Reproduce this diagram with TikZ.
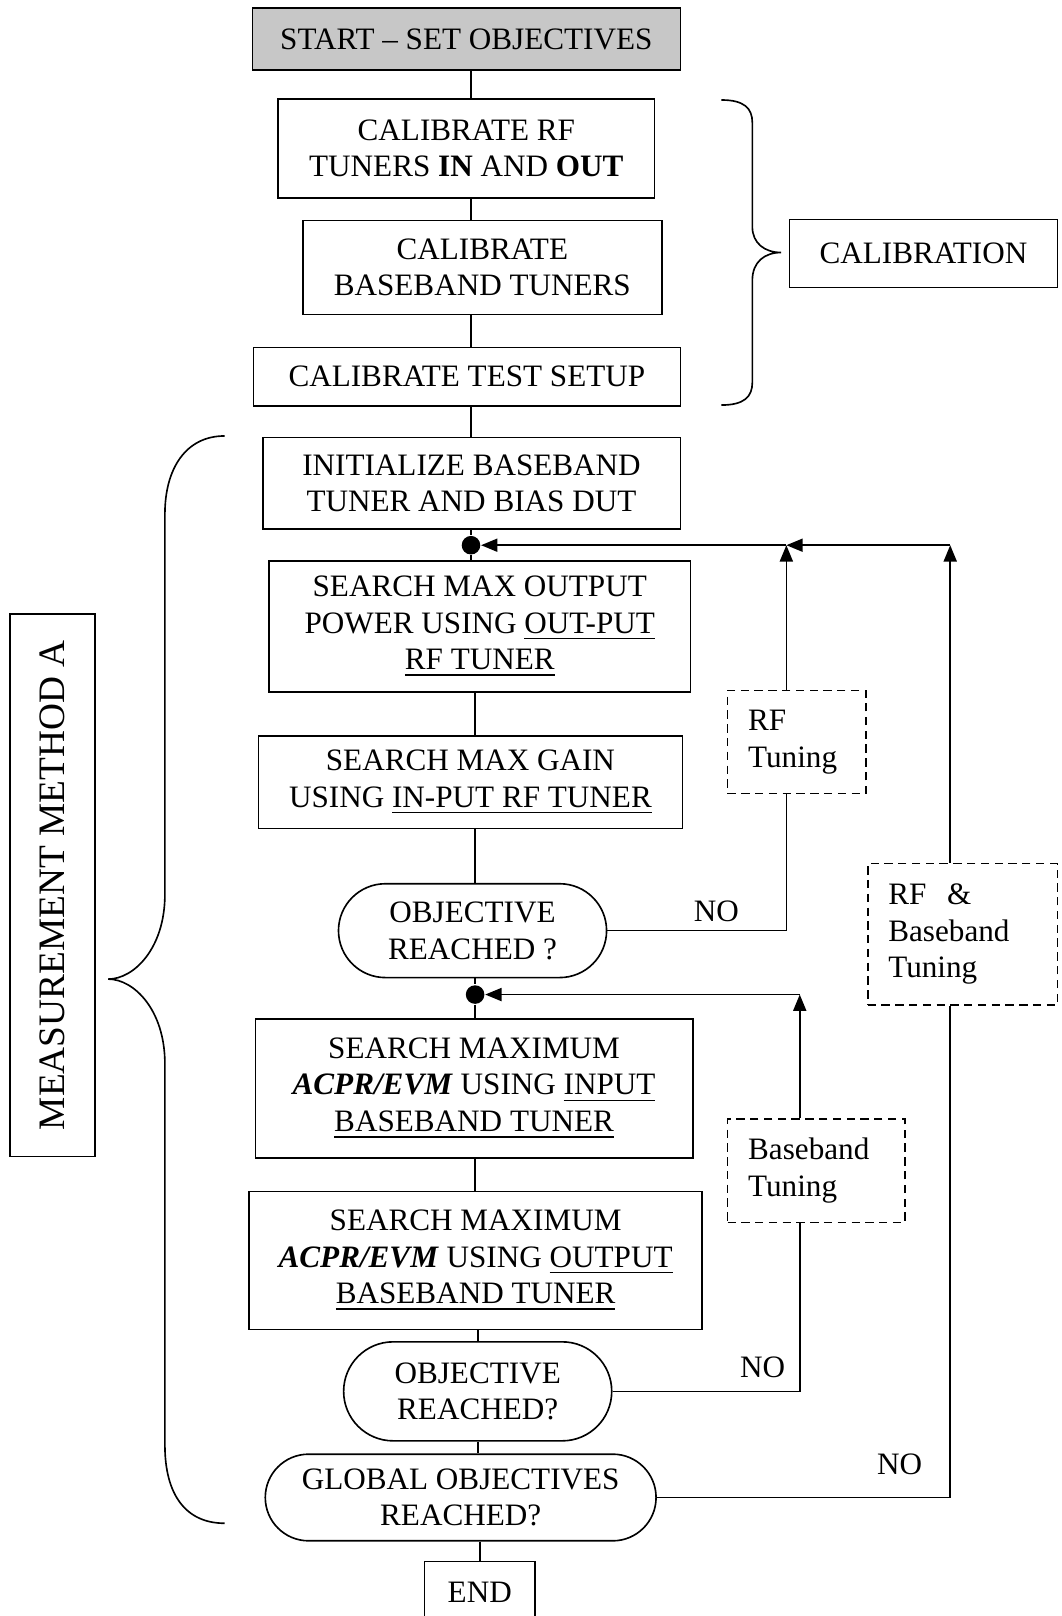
\documentclass[tikz,border=0pt]{standalone}
\usepackage{fontspec}
\setmainfont{Liberation Serif}
\usetikzlibrary{arrows.meta,shapes.misc}

\begin{document}
\begin{tikzpicture}[x=0.01cm,y=-0.01cm,line width=0.45pt,
    font=\fontsize{8.6}{10.1}\selectfont,
    stepbox/.style={draw,rectangle,align=center,inner sep=1pt},
    askbox/.style={draw,rounded rectangle,align=center,inner sep=1pt},
    tunebox/.style={draw,rectangle,dash pattern=on 2.3pt off 1.5pt,align=left,inner xsep=0.2cm,minimum height=1cm},
    joint/.style={circle,fill=black,inner sep=0pt,minimum size=0.18cm},
    arr/.style={-{Triangle[length=4.5pt,width=3.6pt]}} ]
    \useasboundingbox (0,0) rectangle (1030,1568);
    % calibration part
    \node at (452.5,38) [stepbox,fill=black!22,minimum width=4.15cm,minimum height=0.60cm] (start) {START -- SET OBJECTIVES};
    \node at (452.5,144) [stepbox,minimum width=3.65cm,minimum height=0.96cm] (calrf) {CALIBRATE RF\\TUNERS \textbf{IN} AND \textbf{OUT}};
    \node at (468,259.5) [stepbox,minimum width=3.48cm,minimum height=0.91cm] (calbb) {CALIBRATE\\BASEBAND TUNERS};
    \node at (453,365.5) [stepbox,minimum width=4.14cm,minimum height=0.57cm] (caltest) {CALIBRATE TEST SETUP};
    \node at (896,246) [stepbox,minimum width=2.60cm,minimum height=0.66cm] (calib) {CALIBRATION};
    \draw (700,97) .. controls (722,97) and (730,105) .. (730,119) -- (730,220)
        .. controls (730,236) and (742,245) .. (758,245)
        .. controls (742,245) and (730,254) .. (730,272) -- (730,371)
        .. controls (730,385) and (722,393) .. (700,393);
    % measurement part
    \node at (457.5,469) [stepbox,minimum width=4.05cm,minimum height=0.89cm] (init) {INITIALIZE BASEBAND\\TUNER AND BIAS DUT};
    \node at (457,529) [joint] (dot1) {};
    \node at (465.5,608) [stepbox,minimum width=4.09cm,minimum height=1.27cm] (maxout) {SEARCH MAX OUTPUT\\POWER USING \underline{OUT-PUT}\\\underline{RF TUNER}};
    \node at (456.5,759) [stepbox,minimum width=4.11cm,minimum height=0.90cm] (maxgain) {SEARCH MAX GAIN\\USING \underline{IN-PUT RF TUNER}};
    \node at (458.5,903) [askbox,minimum width=2.67cm,minimum height=0.91cm] (obj1) {OBJECTIVE\\REACHED ?};
    \node at (461,965) [joint] (dot2) {};
    \node at (460,1056) [stepbox,minimum width=4.24cm,minimum height=1.35cm] (acprin) {SEARCH MAXIMUM\\\textbf{\textit{ACPR/EVM}} USING \underline{INPUT}\\\underline{BASEBAND TUNER}};
    \node at (461.5,1223) [stepbox,minimum width=4.39cm,minimum height=1.34cm] (acprout) {SEARCH MAXIMUM\\\textbf{\textit{ACPR/EVM}} USING \underline{OUTPUT}\\\underline{BASEBAND TUNER}};
    \node at (463.5,1350) [askbox,minimum width=2.67cm,minimum height=0.96cm] (obj2) {OBJECTIVE\\REACHED?};
    \node at (447,1453) [askbox,minimum width=3.86cm,minimum height=0.84cm] (global) {GLOBAL OBJECTIVES\\REACHED?};
    \node at (465.5,1545) [stepbox,minimum width=1.07cm,minimum height=0.60cm] (endbox) {END};
    \node at (51,859) [stepbox,rotate=90,minimum width=5.26cm,minimum height=0.82cm,font=\fontsize{10.3}{12}\selectfont] (method) {MEASUREMENT METHOD A};
    \draw (218,423) .. controls (180,423) and (160,455) .. (160,499) -- (160,868)
        .. controls (160,920) and (130,950) .. (105,950)
        .. controls (130,950) and (160,980) .. (160,1032) -- (160,1402)
        .. controls (160,1450) and (180,1478) .. (218,1478);
    % tuning loops
    \node at (773,720) [tunebox,text width=0.94cm] (rftune) {RF\\Tuning};
    \node at (792,1136) [tunebox,text width=1.32cm] (bbtune) {Baseband\\Tuning};
    \node at (934,906.5) [tunebox,text width=1.44cm,minimum height=1.37cm] (rfbbtune) {RF~~\&\\Baseband\\Tuning};
    \coordinate (j1) at (763,529);
    \coordinate (j2) at (922,529);
    \coordinate (j3) at (776,965);
    \node at (695,884) (no1) {NO};
    \node at (740,1327) (no2) {NO};
    \node at (873,1421) (no3) {NO};
    % main flow
    \draw (start.south -| dot1) -- (calrf.north -| dot1);
    \draw (calrf.south -| dot1) -- (calbb.north -| dot1);
    \draw (calbb.south -| dot1) -- (caltest.north -| dot1);
    \draw (caltest.south -| dot1) -- (init.north -| dot1);
    \draw (init.south -| dot1) -- (dot1);
    \draw (dot1) -- (maxout.north -| dot1);
    \draw (maxout.south -| dot2) -- (maxgain.north -| dot2);
    \draw (maxgain.south -| dot2) -- (obj1.north -| dot2);
    \draw (obj1.south -| dot2) -- (dot2);
    \draw (dot2) -- (acprin.north -| dot2);
    \draw (acprin.south -| dot2) -- (acprout.north -| dot2);
    \draw (acprout.south -| obj2) -- (obj2.north);
    \draw (obj2.south) -- (global.north -| obj2);
    \draw (global.south -| endbox) -- (endbox.north);
    % feedback
    \draw (obj1.east) -| (rftune.south -| j1);
    \draw [arr] (rftune.north -| j1) -- (j1);
    \draw [arr] (j2) -- (j1);
    \draw [arr] (j1) -- (dot1);
    \draw (obj2.east) -| (bbtune.south -| j3);
    \draw [arr] (bbtune.north -| j3) -- (j3);
    \draw [arr] (j3) -- (dot2);
    \draw (global.east) -| (rfbbtune.south -| j2);
    \draw [arr] (rfbbtune.north -| j2) -- (j2);
\end{tikzpicture}
\end{document}
